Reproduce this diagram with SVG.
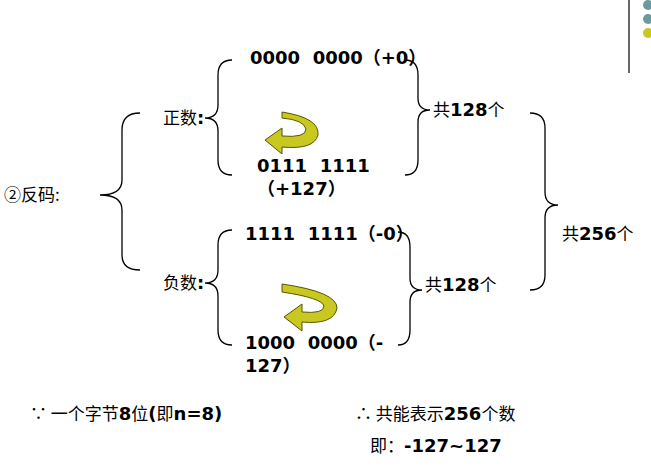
<svg xmlns="http://www.w3.org/2000/svg" width="651" height="468" viewBox="0 0 651 468">
<style>
.t{font-family:"DejaVu Sans","Noto Sans CJK SC",sans-serif;font-size:18px;font-weight:bold;fill:#000;white-space:pre}
.c{font-family:"Noto Sans CJK SC","Liberation Serif",serif;font-size:17px;fill:#000}
.b{fill:none;stroke:#000;stroke-width:1.3}
.arr{fill:#c8c820;stroke:#555500;stroke-width:1}
</style>
<rect width="651" height="468" fill="#fff"/>
<line x1="629" y1="0" x2="629" y2="73" stroke="#000" stroke-width="1.2"/>
<circle cx="648" cy="5" r="5" fill="#6b9a9e"/>
<circle cx="648" cy="19" r="5" fill="#6b9a9e"/>
<circle cx="648" cy="33" r="5" fill="#c8c820"/>
<g id="connectors">
<path class="b" d="M140,113 Q122,113 122,130 L122,180 Q122,195 100,195 Q122,195 122,210 L122,255 Q122,270 140,270"/>
<path class="b" d="M232,60 Q218,60 218,75 L218,105 Q218,118 205,118 Q218,118 218,131 L218,160 Q218,175 232,175"/>
<path class="b" d="M232,230 Q218,230 218,245 L218,270 Q218,283 205,283 Q218,283 218,296 L218,330 Q218,345 232,345"/>
<path class="b" d="M405,60 Q418,60 418,75 L418,98 Q418,110 430,110 Q418,110 418,122 L418,160 Q418,175 405,175"/>
<path class="b" d="M398,232 Q410,232 410,247 L410,278 Q410,290 422,290 Q410,290 410,302 L410,330 Q410,345 398,345"/>
<path class="b" d="M530,113 Q545,113 545,128 L545,192 Q545,205 558,205 Q545,205 545,218 L545,275 Q545,290 530,290"/>
</g>
<g id="arrow1"><path class="arr" d="M282,112 Q320,118 318,135 Q314,150 282,147 L282,154 L265,140 L282,128 L282,136 Q306,138 306,129 Q304,120 282,118 Z"/></g>
<g id="arrow2"><path class="arr" d="M282,284 Q337,292 337,308 Q334,325 302,322 L302,331 L284,317 L302,304 L302,312 Q324,314 324,306 Q322,298 282,292 Z"/></g>
<g id="fanma"><text class="c" x="4" y="201">②反码:</text></g>
<g id="zhengshu"><text class="c" x="163" y="124">正数<tspan class="t">:</tspan></text></g>
<g id="fushu"><text class="c" x="163" y="289">负数<tspan class="t">:</tspan></text></g>
<g id="p0"><text class="t" x="250" y="64">0000  0000（+0）</text></g>
<g id="p127"><text class="t" x="257" y="172">0111  1111</text><text class="t" x="257" y="195">（+127）</text></g>
<g id="n0"><text class="t" x="245" y="240">1111  1111（-0）</text></g>
<g id="n127"><text class="t" x="245" y="349">1000  0000（-</text><text class="t" x="245" y="372">127）</text></g>
<g id="c1"><text class="c" x="433" y="116">共<tspan class="t">128</tspan>个</text></g>
<g id="c2"><text class="c" x="425" y="291">共<tspan class="t">128</tspan>个</text></g>
<g id="c3"><text class="c" x="562" y="240">共<tspan class="t">256</tspan>个</text></g>
<g id="note1"><text class="c" x="30" y="420">∵ 一个字节<tspan class="t">8</tspan>位<tspan class="t">(</tspan>即<tspan class="t">n=8)</tspan></text></g>
<g id="note2"><text class="c" x="355" y="420">∴ 共能表示<tspan class="t">256</tspan>个数</text><text class="c" x="370" y="452">即：<tspan class="t">-127~127</tspan></text></g>
</svg>
